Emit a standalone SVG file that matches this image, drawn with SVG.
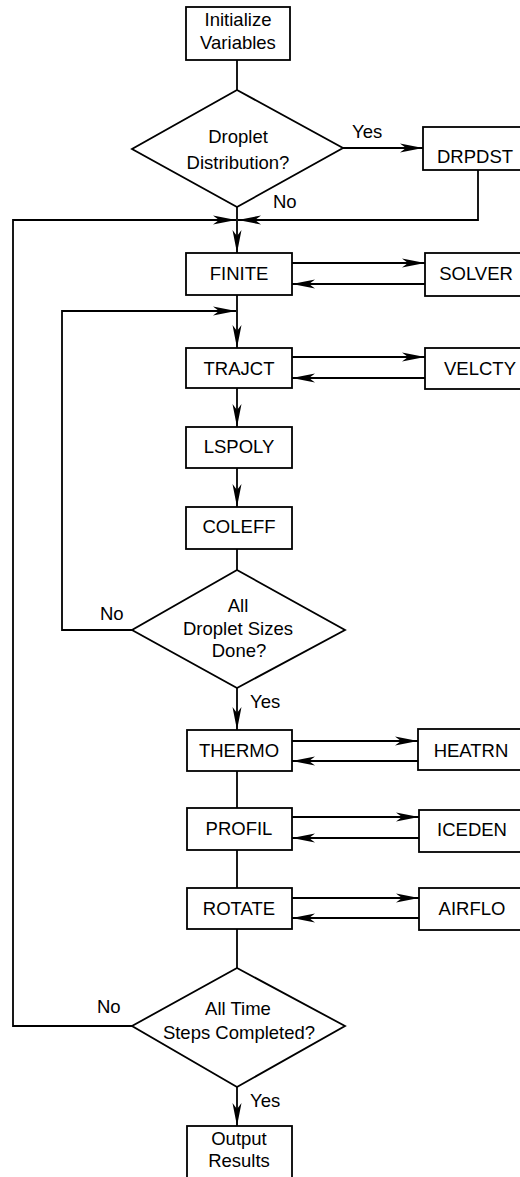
<svg xmlns="http://www.w3.org/2000/svg" width="520" height="1177" viewBox="0 0 520 1177">
<style>
  .box { fill: #fff; stroke: #000; stroke-width: 1.8; }
  .ln { fill: none; stroke: #000; stroke-width: 1.8; }
  .arr { fill: none; stroke: #000; stroke-width: 1.8; marker-end: url(#ah); }
  text { font-family: "Liberation Sans", Arial, sans-serif; font-size: 18.5px; fill: #000; }
  .c { text-anchor: middle; }
</style>
<defs>
  <marker id="ah" viewBox="0 0 26 12" refX="24" refY="6" markerWidth="26" markerHeight="12" markerUnits="userSpaceOnUse" orient="auto">
    <path d="M24,6 L1,1.5 L7,6 L1,10.5 Z" fill="#000"/>
  </marker>
</defs>
<rect width="520" height="1177" fill="#fff"/>

<g id="connectors">
  <line class="ln" x1="237" y1="60" x2="237" y2="90"/>
  <line class="arr" x1="343" y1="148" x2="423" y2="148"/>
  <polyline class="arr" points="478,170 478,220 238,220"/>
  <line class="ln" x1="237" y1="207" x2="237" y2="220"/>
  <polyline class="arr" points="132,1026 13,1026 13,220 236,220"/>
  <line class="arr" x1="237" y1="220" x2="237" y2="253"/>
  <line class="arr" x1="292" y1="263" x2="425" y2="263"/>
  <line class="arr" x1="425" y1="284" x2="292" y2="284"/>
  <line class="arr" x1="237" y1="295" x2="237" y2="348"/>
  <polyline class="arr" points="132,630 62,630 62,311 236,311"/>
  <line class="arr" x1="292" y1="357" x2="425" y2="357"/>
  <line class="arr" x1="425" y1="378" x2="292" y2="378"/>
  <line class="arr" x1="237" y1="388" x2="237" y2="427"/>
  <line class="arr" x1="237" y1="468" x2="237" y2="507"/>
  <line class="ln" x1="237" y1="549" x2="237" y2="570"/>
  <line class="arr" x1="237" y1="688" x2="237" y2="730"/>
  <line class="arr" x1="292" y1="741" x2="418" y2="741"/>
  <line class="arr" x1="418" y1="761" x2="292" y2="761"/>
  <line class="ln" x1="237" y1="771" x2="237" y2="808"/>
  <line class="arr" x1="292" y1="817" x2="419" y2="817"/>
  <line class="arr" x1="419" y1="838" x2="292" y2="838"/>
  <line class="ln" x1="237" y1="850" x2="237" y2="888"/>
  <line class="arr" x1="292" y1="898" x2="419" y2="898"/>
  <line class="arr" x1="419" y1="918" x2="292" y2="918"/>
  <line class="ln" x1="237" y1="929" x2="237" y2="968"/>
  <line class="arr" x1="237" y1="1087" x2="237" y2="1126"/>
  <text x="352" y="138">Yes</text>
  <text x="273" y="208">No</text>
  <text x="100" y="620">No</text>
  <text x="250" y="708">Yes</text>
  <text x="97" y="1013">No</text>
  <text x="250" y="1107">Yes</text>
</g>

<g id="init">
  <rect class="box" x="186" y="7" width="104" height="53"/>
  <text class="c" x="238" y="26">Initialize</text>
  <text class="c" x="238" y="49">Variables</text>
</g>
<g id="dec-droplet">
  <polygon class="box" points="237,90 343,148 237,207 132,149"/>
  <text class="c" x="238" y="143">Droplet</text>
  <text class="c" x="238" y="169">Distribution?</text>
</g>
<g id="drpdst">
  <rect class="box" x="423" y="127" width="102" height="43"/>
  <text class="c" x="475" y="163">DRPDST</text>
</g>
<g id="finite">
  <rect class="box" x="186" y="253" width="106" height="42"/>
  <text class="c" x="239" y="280">FINITE</text>
</g>
<g id="solver">
  <rect class="box" x="425" y="253" width="100" height="43"/>
  <text class="c" x="476" y="280">SOLVER</text>
</g>
<g id="trajct">
  <rect class="box" x="186" y="348" width="106" height="40"/>
  <text class="c" x="239" y="375">TRAJCT</text>
</g>
<g id="velcty">
  <rect class="box" x="425" y="348" width="100" height="41"/>
  <text class="c" x="480" y="375">VELCTY</text>
</g>
<g id="lspoly">
  <rect class="box" x="186" y="427" width="106" height="41"/>
  <text class="c" x="239" y="453">LSPOLY</text>
</g>
<g id="coleff">
  <rect class="box" x="186" y="507" width="106" height="42"/>
  <text class="c" x="239" y="533">COLEFF</text>
</g>
<g id="dec-sizes">
  <polygon class="box" points="237,570 345,630 237,688 132,630"/>
  <text class="c" x="238" y="612">All</text>
  <text class="c" x="238" y="635">Droplet Sizes</text>
  <text class="c" x="239" y="657">Done?</text>
</g>
<g id="thermo">
  <rect class="box" x="187" y="730" width="105" height="41"/>
  <text class="c" x="239" y="757">THERMO</text>
</g>
<g id="heatrn">
  <rect class="box" x="418" y="729" width="107" height="41"/>
  <text class="c" x="471" y="757">HEATRN</text>
</g>
<g id="profil">
  <rect class="box" x="187" y="808" width="105" height="42"/>
  <text class="c" x="239" y="835">PROFIL</text>
</g>
<g id="iceden">
  <rect class="box" x="419" y="810" width="106" height="42"/>
  <text class="c" x="472" y="836">ICEDEN</text>
</g>
<g id="rotate">
  <rect class="box" x="187" y="888" width="105" height="41"/>
  <text class="c" x="239" y="915">ROTATE</text>
</g>
<g id="airflo">
  <rect class="box" x="419" y="888" width="106" height="42"/>
  <text class="c" x="472" y="915">AIRFLO</text>
</g>
<g id="dec-time">
  <polygon class="box" points="237,968 345,1026 237,1087 132,1026"/>
  <text class="c" x="238" y="1015">All Time</text>
  <text class="c" x="239" y="1039">Steps Completed?</text>
</g>
<g id="output">
  <rect class="box" x="187" y="1126" width="105" height="60"/>
  <text class="c" x="239" y="1145">Output</text>
  <text class="c" x="239" y="1167">Results</text>
</g>
</svg>
